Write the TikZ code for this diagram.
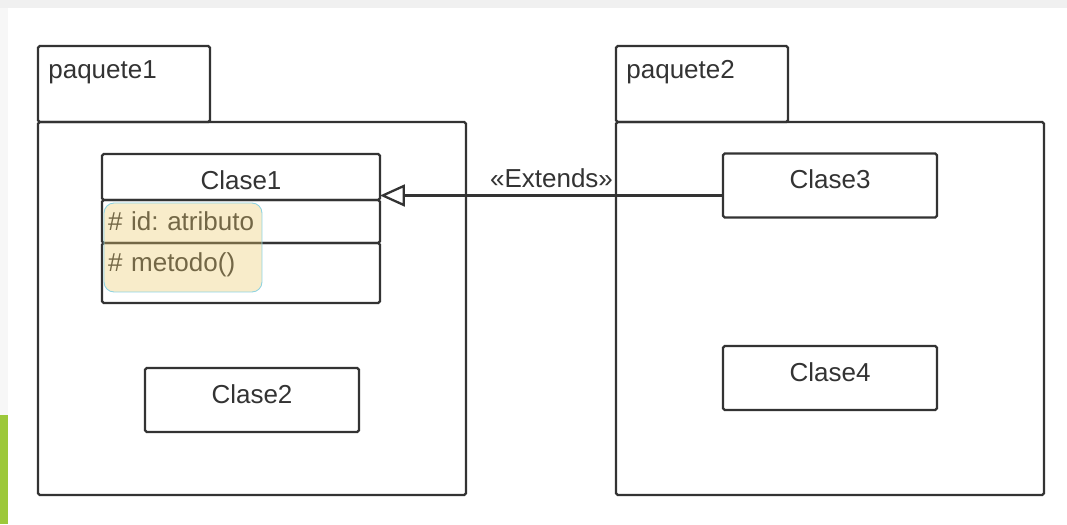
\documentclass[tikz,border=0pt]{standalone}
\usepackage{fontspec}
\setmainfont{Liberation Sans}
\usetikzlibrary{arrows.meta,positioning}
\definecolor{ink}{HTML}{333333}
\definecolor{hl}{HTML}{EBC96A}
\definecolor{hlborder}{HTML}{8FD3E0}
\definecolor{leaf}{HTML}{9CC83A}
\frenchspacing

\begin{document}
\begin{tikzpicture}[x=0.02cm,y=-0.02cm,font=\fontsize{14.8}{17}\selectfont,
      box/.style={rectangle,draw=ink,line width=1.3pt,rounded corners=1pt,
        text=ink,inner sep=0pt,outer sep=0pt},
      tab/.style={box,minimum width=3.44cm,minimum height=1.52cm},
      pkg/.style={box,minimum width=8.56cm,minimum height=7.46cm},
      cls/.style={box,minimum width=4.28cm,minimum height=1.28cm,
        text height=0.36cm,text depth=0.24cm},
      part/.style={box,minimum width=5.56cm,inner xsep=0.12cm},
      member/.style={part,text width=5.32cm,align=left},
      tabtext/.style={anchor=north west,inner sep=0pt,xshift=0.2cm,
        yshift=-0.28cm,text=ink},
      extends/.style={-{Triangle[open,length=0.5cm,width=0.44cm]},
        draw=ink,line width=1.3pt}]
      % background of the screenshot
      \fill[white] (0,0) rectangle (1067,524);
      \fill[gray!12] (0,0) rectangle (1067,8);
      \fill[gray!6] (0,8) rectangle (8,415);
      \fill[leaf] (0,415) rectangle (8,524);
      \useasboundingbox (0,0) rectangle (1067,524);

      % packages
      \node[tab,label={[tabtext]north west:paquete1}] (p1tab) at (124,84) {};
      \node[pkg] (p1) at (252,308.5) {};
      \node[tab,label={[tabtext]north west:paquete2}] (p2tab) at (702,84) {};
      \node[pkg] (p2) at (830,308.5) {};

      % Clase1 with its compartments
      \node[part,minimum height=0.92cm,text height=0.5cm,text depth=0cm]
        (c1head) at (241,177) {Clase1};
      \node[member,minimum height=0.86cm,below=0pt of c1head] (c1attr)
        {\# id: atributo};
      \node[member,minimum height=1.2cm,text height=0.375cm,text depth=0.445cm,
        below=0pt of c1attr] (c1meth) {\# metodo()};
      \node[rectangle,rounded corners=0.2cm,fill=hl,fill opacity=.35,
        draw=hlborder,line width=0.5pt,minimum width=3.16cm,minimum height=1.78cm]
        (mark) at (183,247.5) {};

      \node[cls] (c2) at (252,400) {Clase2};
      \node[cls] (c3) at (830,185.5) {Clase3};
      \node[cls] (c4) at (830,378) {Clase4};

      \coordinate (ext) at ([yshift=-0.2cm]c3.west);
      \draw[extends] (ext) -- (ext -| c1head.east)
        node[midway,above,inner sep=0.14cm,text=ink] {«Extends»};
\end{tikzpicture}
\end{document}
